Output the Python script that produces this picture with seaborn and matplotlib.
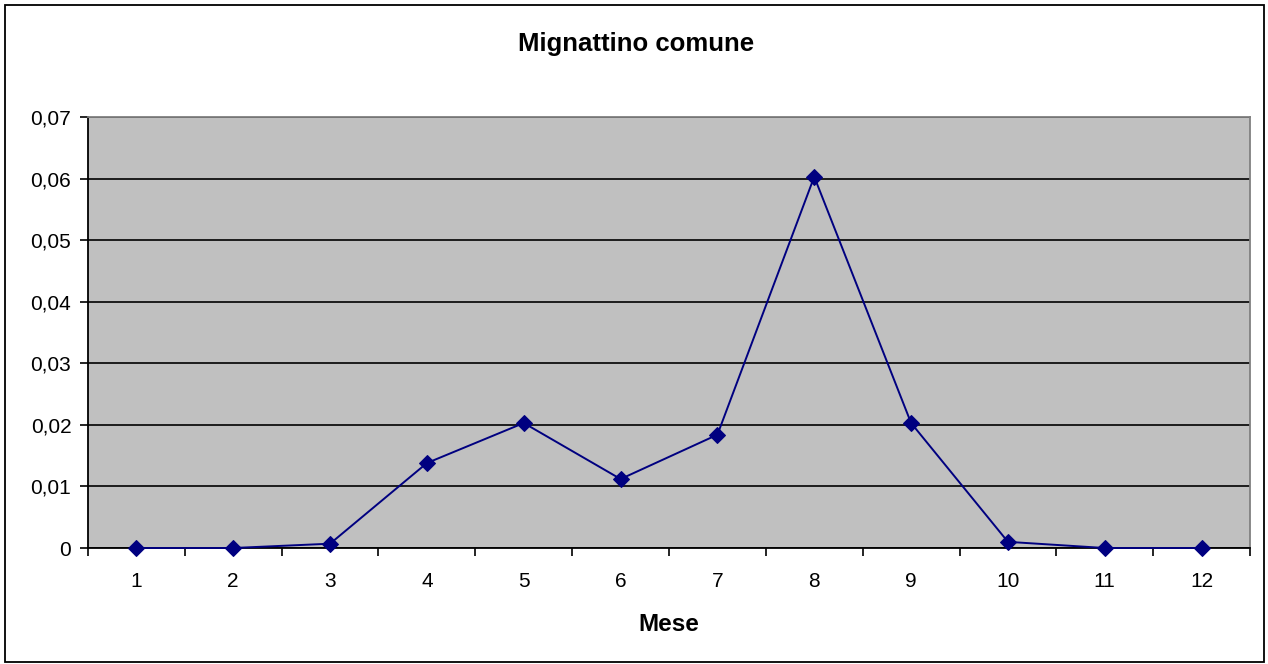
import numpy as np
import pandas as pd
import matplotlib
matplotlib.use("Agg")
import matplotlib.pyplot as plt
import seaborn as sns
from matplotlib.patches import Rectangle
from matplotlib.ticker import FuncFormatter

# dati
mesi = [1, 2, 3, 4, 5, 6, 7, 8, 9, 10, 11, 12]
valori = [0.0, 0.0, 0.0007, 0.0138, 0.0203, 0.0112, 0.0184, 0.0603, 0.0203, 0.001, 0.0, 0.0]
y_ticks = [0, 0.01, 0.02, 0.03, 0.04, 0.05, 0.06, 0.07]

df = pd.DataFrame({'Mese': mesi, 'Valore': valori})

sns.set_style("white", {'xtick.bottom': True, 'ytick.left': True,
                        'text.color': 'black', 'xtick.color': 'black', 'ytick.color': 'black',
                        'axes.labelcolor': 'black'})
plt.rcParams['font.family'] = ['Liberation Sans', 'DejaVu Sans']

fig = plt.figure(figsize=(12.68, 6.64), dpi=100)
# cornice esterna
fig.patches.append(Rectangle((5/1268, 2/664), 1259/1268, 657/664, transform=fig.transFigure,
                             fill=False, edgecolor='black', linewidth=1.3))
ax = fig.add_axes([88/1268, (664-548)/664, 1162/1268, 431/664])
ax.set_facecolor('#c0c0c0')

sns.lineplot(data=df, x='Mese', y='Valore', ax=ax, color='#000080', marker='D',
             markersize=8.5, markeredgecolor='#000080', linewidth=1.4, clip_on=False, zorder=5)

ax.set_xlim(0.5, 12.5)
ax.set_ylim(0, 0.07)
ax.set_yticks(y_ticks)
ax.yaxis.set_major_formatter(FuncFormatter(lambda v, p: '0' if v == 0 else f'{v:.2f}'.replace('.', ',')))
ax.set_xticks(mesi)
ax.set_xticks(np.arange(0.5, 13, 1), minor=True)
ax.tick_params(axis='x', which='major', length=0, labelsize=15, pad=17)
ax.tick_params(axis='x', which='minor', bottom=True, length=6, width=1.2, color='black', direction='out')
ax.tick_params(axis='y', left=True, length=6, width=1.2, color='black', direction='out', labelsize=15, pad=6)

ax.grid(axis='y', color='black', linewidth=1.2)
ax.set_axisbelow(True)
for s in ['left', 'bottom']:
    ax.spines[s].set_color('black')
    ax.spines[s].set_linewidth(1.3)
for s in ['top', 'right']:
    ax.spines[s].set_color('#808080')
    ax.spines[s].set_linewidth(1.3)

ax.set_xlabel('Mese', fontsize=17.5, fontweight='bold', labelpad=16)
ax.set_ylabel('')
fig.text(636/1268, 1 - 44/664, 'Mignattino comune', ha='center', va='center',
         fontsize=18.5, fontweight='bold')

fig.savefig('out.png', dpi=100)
